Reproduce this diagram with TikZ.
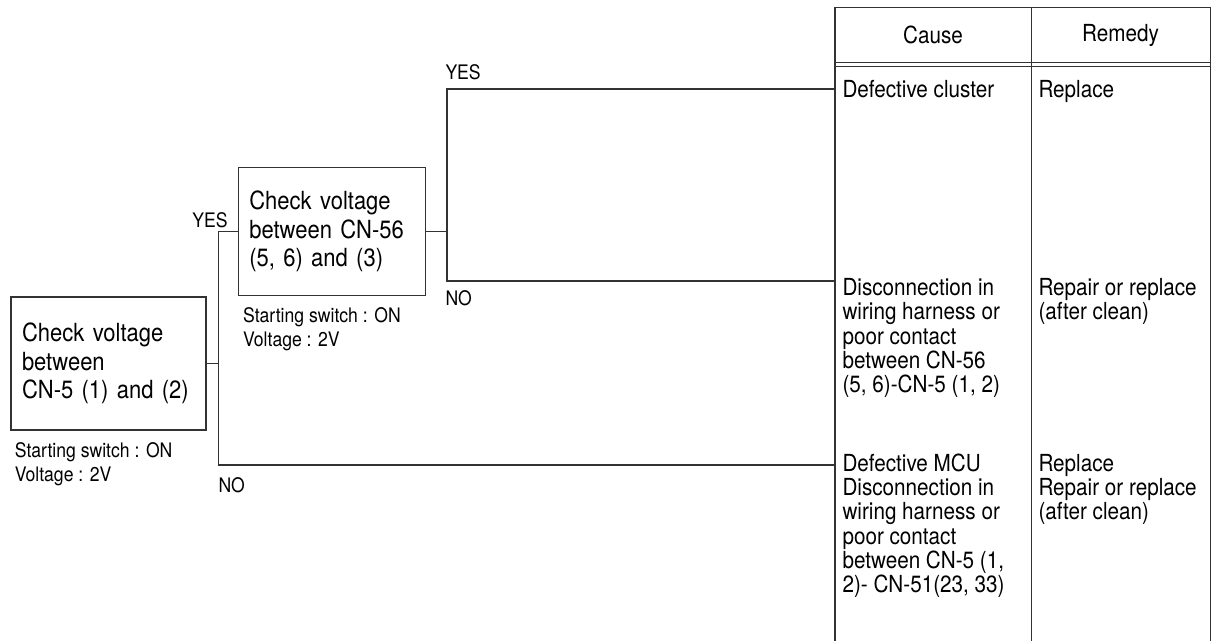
\documentclass[tikz,border=0pt]{standalone}
\usepackage{fontspec}
\setmainfont{TeX Gyre Heros}[FakeStretch=0.88]
\usetikzlibrary{positioning, calc}

\begin{document}
\begin{tikzpicture}[
    x=1pt, y=-1pt,
    draw=black!80,
    text=black,
    line width=1pt,
    check/.style={draw, rectangle, line width=1.3pt, align=left, inner xsep=11pt, font=\fontsize{25}{28.5}\selectfont},
    note/.style={anchor=north west, inner sep=0pt, align=left, font=\fontsize{20}{24}\selectfont},
    lbl/.style={inner sep=0pt, font=\fontsize{20}{24}\selectfont},
    cell/.style={anchor=north west, inner xsep=7pt, inner ysep=0pt, align=left, font=\fontsize{23.5}{24.2}\selectfont},
    head/.style={font=\fontsize{23.5}{24}\selectfont},
    wire/.style={line width=1.1pt},
]
    \useasboundingbox (0,0) rectangle (1211,641);

    \node[check, text width=173pt, minimum height=133pt] (chk1) at (108.5,363.5) {Check voltage\\ between\\ CN-5 (1) and (2)};
    \node[check, text width=165pt, minimum height=128pt, above right=0pt and 31pt of chk1] (chk2) {Check voltage\\ between CN-56\\ (5, 6) and (3)};
    \node[note] (note1) at ([xshift=4pt, yshift=-11pt]chk1.south west) {Starting switch : ON\\ Voltage : 2V};
    \node[note] (note2) at ([xshift=5pt, yshift=-11pt]chk2.south west) {Starting switch : ON\\ Voltage : 2V};

    \draw (835,7) -- (1210,7);
    \draw (835,62) -- (1210,62) (835,66) -- (1210,66);
    \draw[line width=1.8pt] (835,7) -- (835,641);
    \draw (1031,7) -- (1031,641);
    \draw (1210,7) -- (1210,641);
    \node[head] (cause)  at (933,35)    {Cause};
    \node[head] (remedy) at (1120.5,35) {Remedy};

    \coordinate (in1) at (835,89);
    \coordinate (in2) at (835,281);
    \coordinate (in3) at (835,465);
    \node[cell] (cluster) at ([yshift=9.5pt]in1)  {Defective cluster};
    \node[cell] (harness) at ([yshift=3pt]in2)    {Disconnection in\\ wiring harness or\\ poor contact\\ between CN-56\\ (5, 6)-CN-5 (1, 2)};
    \node[cell] (mcu)     at ([yshift=11.5pt]in3) {Defective MCU\\ Disconnection in\\ wiring harness or\\ poor contact\\ between CN-5 (1,\\ 2)- CN-51(23, 33)};
    \node[cell] (rep1) at (cluster.north -| 1031,0) {Replace};
    \node[cell] (rep2) at (harness.north -| 1031,0) {Repair or replace\\ (after clean)};
    \node[cell] (rep3) at (mcu.north -| 1031,0)     {Replace\\ Repair or replace\\ (after clean)};

    \coordinate (j1) at ($(chk1.east)+(12,0)$);
    \coordinate (j2) at ($(chk2.east)+(21,0)$);
    \draw[wire] (chk1.east) -- (j1);
    \draw[wire] (chk2.west) -| (j1) |- (in3);
    \draw[wire] (chk2.east) -- (j2);
    \draw[wire] (in1) -| (j2) |- (in2);

    \node[lbl, anchor=east] (yes1) at (228,220) {YES};
    \node[lbl, anchor=west] (no1)  at (218,485) {NO};
    \node[lbl, anchor=west] (yes2) at (445,72)  {YES};
    \node[lbl, anchor=west] (no2)  at (445,298) {NO};
\end{tikzpicture}
\end{document}
